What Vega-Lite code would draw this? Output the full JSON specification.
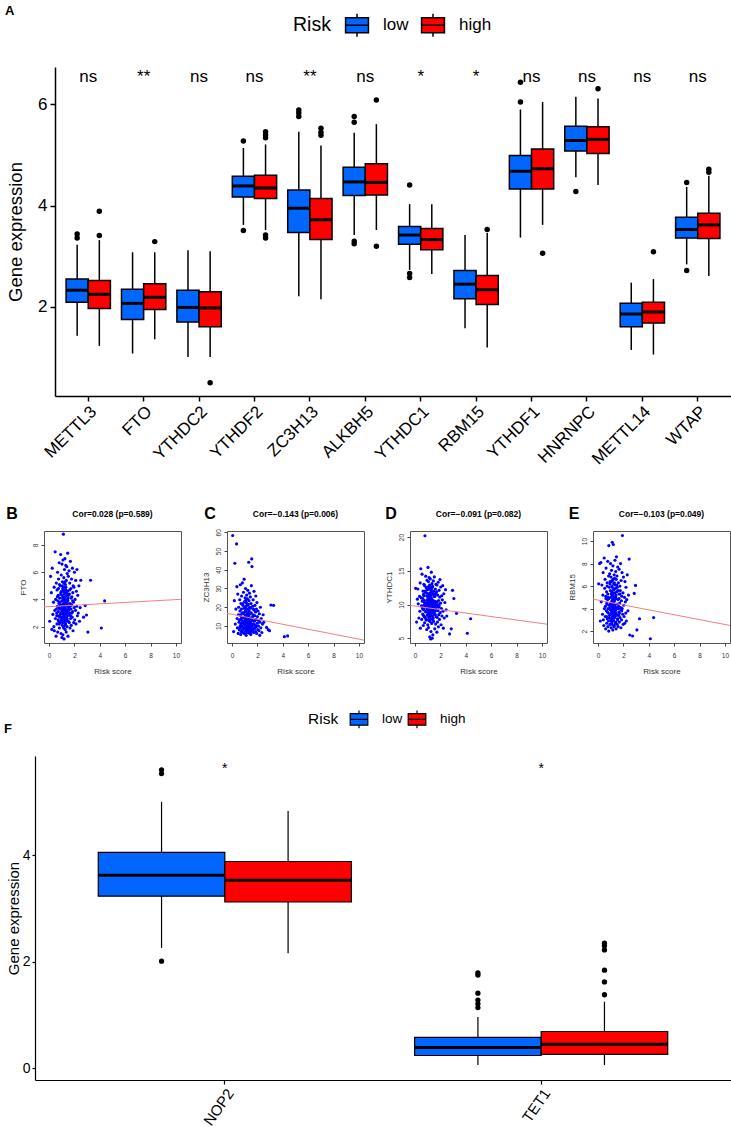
{
"$schema": "https://vega.github.io/schema/vega-lite/v6.json",
"autosize": {"type": "pad"},
"padding": {"left": 0, "top": 5, "right": 0, "bottom": 0},
"background": "white",
"config": {
 "font": "Liberation Sans",
 "view": {"stroke": null},
 "axis": {"grid": false, "labelColor": "black", "titleColor": "black", "tickColor": "black", "domainColor": "black", "titleFontWeight": "normal"},
 "title": {"font": "Liberation Sans", "color": "black"},
 "legend": {"labelColor": "black", "titleColor": "black"}
},
"resolve": {"scale": {"color": "independent", "x": "independent", "y": "independent", "xOffset": "independent"}},
"datasets": {
 "boxA": [
  {"gene":"METTL3","risk":"low","lo":1.43,"q1":2.09,"med":2.33,"q3":2.55,"hi":3.23},
  {"gene":"METTL3","risk":"high","lo":1.23,"q1":1.97,"med":2.25,"q3":2.52,"hi":3.32},
  {"gene":"FTO","risk":"low","lo":1.08,"q1":1.75,"med":2.07,"q3":2.35,"hi":3.08},
  {"gene":"FTO","risk":"high","lo":1.36,"q1":1.95,"med":2.19,"q3":2.46,"hi":3.08},
  {"gene":"YTHDC2","risk":"low","lo":1.01,"q1":1.70,"med":1.99,"q3":2.33,"hi":3.12},
  {"gene":"YTHDC2","risk":"high","lo":1.01,"q1":1.61,"med":1.98,"q3":2.30,"hi":3.10},
  {"gene":"YTHDF2","risk":"low","lo":3.62,"q1":4.17,"med":4.39,"q3":4.58,"hi":5.14},
  {"gene":"YTHDF2","risk":"high","lo":3.52,"q1":4.14,"med":4.35,"q3":4.60,"hi":5.21},
  {"gene":"ZC3H13","risk":"low","lo":2.21,"q1":3.47,"med":3.95,"q3":4.31,"hi":5.46},
  {"gene":"ZC3H13","risk":"high","lo":2.15,"q1":3.33,"med":3.72,"q3":4.14,"hi":5.19},
  {"gene":"ALKBH5","risk":"low","lo":3.42,"q1":4.20,"med":4.47,"q3":4.76,"hi":5.44},
  {"gene":"ALKBH5","risk":"high","lo":3.52,"q1":4.21,"med":4.46,"q3":4.83,"hi":5.61},
  {"gene":"YTHDC1","risk":"low","lo":2.73,"q1":3.24,"med":3.42,"q3":3.59,"hi":4.03},
  {"gene":"YTHDC1","risk":"high","lo":2.65,"q1":3.13,"med":3.33,"q3":3.55,"hi":4.03},
  {"gene":"RBM15","risk":"low","lo":1.58,"q1":2.16,"med":2.45,"q3":2.72,"hi":3.42},
  {"gene":"RBM15","risk":"high","lo":1.20,"q1":2.05,"med":2.34,"q3":2.62,"hi":3.46},
  {"gene":"YTHDF1","risk":"low","lo":3.37,"q1":4.33,"med":4.68,"q3":4.99,"hi":5.90},
  {"gene":"YTHDF1","risk":"high","lo":3.62,"q1":4.33,"med":4.73,"q3":5.12,"hi":6.05},
  {"gene":"HNRNPC","risk":"low","lo":4.56,"q1":5.08,"med":5.29,"q3":5.57,"hi":6.15},
  {"gene":"HNRNPC","risk":"high","lo":4.41,"q1":5.03,"med":5.31,"q3":5.56,"hi":6.12},
  {"gene":"METTL14","risk":"low","lo":1.15,"q1":1.61,"med":1.86,"q3":2.07,"hi":2.48},
  {"gene":"METTL14","risk":"high","lo":1.06,"q1":1.68,"med":1.90,"q3":2.09,"hi":2.55},
  {"gene":"WTAP","risk":"low","lo":2.84,"q1":3.36,"med":3.53,"q3":3.77,"hi":4.37},
  {"gene":"WTAP","risk":"high","lo":2.61,"q1":3.35,"med":3.62,"q3":3.85,"hi":4.59}
 ],
 "outA": [
  {"gene":"METTL3","risk":"low","v":3.44},{"gene":"METTL3","risk":"low","v":3.36},
  {"gene":"METTL3","risk":"high","v":3.89},{"gene":"METTL3","risk":"high","v":3.41},
  {"gene":"FTO","risk":"high","v":3.29},
  {"gene":"YTHDC2","risk":"high","v":0.50},
  {"gene":"YTHDF2","risk":"low","v":5.28},{"gene":"YTHDF2","risk":"low","v":3.51},
  {"gene":"YTHDF2","risk":"high","v":5.46},{"gene":"YTHDF2","risk":"high","v":5.40},{"gene":"YTHDF2","risk":"high","v":5.34},{"gene":"YTHDF2","risk":"high","v":3.42},{"gene":"YTHDF2","risk":"high","v":3.36},
  {"gene":"ZC3H13","risk":"low","v":5.89},{"gene":"ZC3H13","risk":"low","v":5.83},{"gene":"ZC3H13","risk":"low","v":5.76},
  {"gene":"ZC3H13","risk":"high","v":5.53},{"gene":"ZC3H13","risk":"high","v":5.45},{"gene":"ZC3H13","risk":"high","v":5.39},
  {"gene":"ALKBH5","risk":"low","v":5.76},{"gene":"ALKBH5","risk":"low","v":5.65},{"gene":"ALKBH5","risk":"low","v":3.30},{"gene":"ALKBH5","risk":"low","v":3.25},
  {"gene":"ALKBH5","risk":"high","v":6.09},{"gene":"ALKBH5","risk":"high","v":3.20},
  {"gene":"YTHDC1","risk":"low","v":4.41},{"gene":"YTHDC1","risk":"low","v":2.66},{"gene":"YTHDC1","risk":"low","v":2.58},
  {"gene":"RBM15","risk":"high","v":3.53},
  {"gene":"YTHDF1","risk":"low","v":6.44},{"gene":"YTHDF1","risk":"low","v":6.05},
  {"gene":"YTHDF1","risk":"high","v":3.06},
  {"gene":"HNRNPC","risk":"low","v":4.28},
  {"gene":"HNRNPC","risk":"high","v":6.31},
  {"gene":"METTL14","risk":"high","v":3.09},
  {"gene":"WTAP","risk":"low","v":4.46},{"gene":"WTAP","risk":"low","v":2.72},
  {"gene":"WTAP","risk":"high","v":4.72},{"gene":"WTAP","risk":"high","v":4.66}
 ],
 "sigA": [
  {"gene":"METTL3","lab":"ns"},{"gene":"FTO","lab":"**"},{"gene":"YTHDC2","lab":"ns"},{"gene":"YTHDF2","lab":"ns"},
  {"gene":"ZC3H13","lab":"**"},{"gene":"ALKBH5","lab":"ns"},{"gene":"YTHDC1","lab":"*"},{"gene":"RBM15","lab":"*"},
  {"gene":"YTHDF1","lab":"ns"},{"gene":"HNRNPC","lab":"ns"},{"gene":"METTL14","lab":"ns"},{"gene":"WTAP","lab":"ns"}
 ],
 "boxF": [
  {"gene":"NOP2","risk":"low","lo":2.26,"q1":3.23,"med":3.62,"q3":4.05,"hi":5.00},
  {"gene":"NOP2","risk":"high","lo":2.16,"q1":3.12,"med":3.53,"q3":3.88,"hi":4.83},
  {"gene":"TET1","risk":"low","lo":0.06,"q1":0.24,"med":0.39,"q3":0.58,"hi":0.96},
  {"gene":"TET1","risk":"high","lo":0.06,"q1":0.26,"med":0.45,"q3":0.69,"hi":1.25}
 ],
 "outF": [
  {"gene":"NOP2","risk":"low","v":5.60},{"gene":"NOP2","risk":"low","v":5.53},{"gene":"NOP2","risk":"low","v":2.01},
  {"gene":"TET1","risk":"low","v":1.79},{"gene":"TET1","risk":"low","v":1.75},{"gene":"TET1","risk":"low","v":1.41},{"gene":"TET1","risk":"low","v":1.28},{"gene":"TET1","risk":"low","v":1.21},{"gene":"TET1","risk":"low","v":1.14},
  {"gene":"TET1","risk":"high","v":2.35},{"gene":"TET1","risk":"high","v":2.30},{"gene":"TET1","risk":"high","v":2.22},{"gene":"TET1","risk":"high","v":1.84},{"gene":"TET1","risk":"high","v":1.62},{"gene":"TET1","risk":"high","v":1.38}
 ],
 "sigF": [{"gene":"NOP2","lab":"*"},{"gene":"TET1","lab":"*"}],
 "fit": [
  {"gene":"FTO","risk":-0.4,"v":3.45},{"gene":"FTO","risk":10.4,"v":4.01},
  {"gene":"ZC3H13","risk":-0.4,"v":16.73},{"gene":"ZC3H13","risk":10.4,"v":2.42},
  {"gene":"YTHDC1","risk":-0.4,"v":9.87},{"gene":"YTHDC1","risk":10.4,"v":7.09},
  {"gene":"RBM15","risk":-0.4,"v":4.84},{"gene":"RBM15","risk":10.4,"v":2.50}
 ],
 "pts": [
  {"risk":0.05,"FTO":2.4,"ZC3H13":58.3,"YTHDC1":12.4,"RBM15":6.2},
  {"risk":0.12,"FTO":5.7,"ZC3H13":7.0,"YTHDC1":7.4,"RBM15":8.0},
  {"risk":0.18,"FTO":4.5,"ZC3H13":23.5,"YTHDC1":10.8,"RBM15":2.9},
  {"risk":0.22,"FTO":1.8,"ZC3H13":43.5,"YTHDC1":12.3,"RBM15":8.1},
  {"risk":0.25,"FTO":6.3,"ZC3H13":11.0,"YTHDC1":10.1,"RBM15":4.6},
  {"risk":0.3,"FTO":2.9,"ZC3H13":19.0,"YTHDC1":8.0,"RBM15":6.1},
  {"risk":0.35,"FTO":3.8,"ZC3H13":53.8,"YTHDC1":11.2,"RBM15":3.5},
  {"risk":0.38,"FTO":2.0,"ZC3H13":31.0,"YTHDC1":9.0,"RBM15":5.2},
  {"risk":0.4,"FTO":4.9,"ZC3H13":14.0,"YTHDC1":13.2,"RBM15":7.2},
  {"risk":0.42,"FTO":1.7,"ZC3H13":9.0,"YTHDC1":6.5,"RBM15":3.0},
  {"risk":0.45,"FTO":3.2,"ZC3H13":27.0,"YTHDC1":15.3,"RBM15":2.5},
  {"risk":0.48,"FTO":7.5,"ZC3H13":6.0,"YTHDC1":11.0,"RBM15":8.5},
  {"risk":0.5,"FTO":2.6,"ZC3H13":16.0,"YTHDC1":9.8,"RBM15":4.0},
  {"risk":0.52,"FTO":4.0,"ZC3H13":20.0,"YTHDC1":7.8,"RBM15":5.8},
  {"risk":0.55,"FTO":1.3,"ZC3H13":12.0,"YTHDC1":14.5,"RBM15":6.6},
  {"risk":0.57,"FTO":5.2,"ZC3H13":8.0,"YTHDC1":10.5,"RBM15":3.3},
  {"risk":0.58,"FTO":3.3,"ZC3H13":13.0,"YTHDC1":9.5,"RBM15":4.2},
  {"risk":0.6,"FTO":3.0,"ZC3H13":24.0,"YTHDC1":8.6,"RBM15":2.2},
  {"risk":0.61,"FTO":2.8,"ZC3H13":9.0,"YTHDC1":10.9,"RBM15":5.1},
  {"risk":0.62,"FTO":2.2,"ZC3H13":18.0,"YTHDC1":12.0,"RBM15":4.9},
  {"risk":0.63,"FTO":4.7,"ZC3H13":10.0,"YTHDC1":9.3,"RBM15":7.6},
  {"risk":0.65,"FTO":3.5,"ZC3H13":32.0,"YTHDC1":6.9,"RBM15":3.8},
  {"risk":0.66,"FTO":4.2,"ZC3H13":16.0,"YTHDC1":8.4,"RBM15":3.3},
  {"risk":0.67,"FTO":6.0,"ZC3H13":13.5,"YTHDC1":11.5,"RBM15":5.5},
  {"risk":0.68,"FTO":1.6,"ZC3H13":5.5,"YTHDC1":9.9,"RBM15":2.7},
  {"risk":0.69,"FTO":3.9,"ZC3H13":11.0,"YTHDC1":11.3,"RBM15":4.5},
  {"risk":0.7,"FTO":2.8,"ZC3H13":22.0,"YTHDC1":13.0,"RBM15":4.4},
  {"risk":0.71,"FTO":2.5,"ZC3H13":7.0,"YTHDC1":9.2,"RBM15":6.0},
  {"risk":0.72,"FTO":4.3,"ZC3H13":15.0,"YTHDC1":8.2,"RBM15":6.3},
  {"risk":0.73,"FTO":3.1,"ZC3H13":9.5,"YTHDC1":10.3,"RBM15":3.1},
  {"risk":0.74,"FTO":4.8,"ZC3H13":19.0,"YTHDC1":10.6,"RBM15":3.7},
  {"risk":0.75,"FTO":5.5,"ZC3H13":26.0,"YTHDC1":7.3,"RBM15":4.8},
  {"risk":0.76,"FTO":2.4,"ZC3H13":11.5,"YTHDC1":12.8,"RBM15":8.2},
  {"risk":0.77,"FTO":3.4,"ZC3H13":14.0,"YTHDC1":8.1,"RBM15":5.3},
  {"risk":0.78,"FTO":3.7,"ZC3H13":7.5,"YTHDC1":20.2,"RBM15":2.4},
  {"risk":0.79,"FTO":2.2,"ZC3H13":10.0,"YTHDC1":12.0,"RBM15":4.0},
  {"risk":0.8,"FTO":6.7,"ZC3H13":17.0,"YTHDC1":9.6,"RBM15":5.0},
  {"risk":0.81,"FTO":1.9,"ZC3H13":33.0,"YTHDC1":11.8,"RBM15":3.6},
  {"risk":0.82,"FTO":5.1,"ZC3H13":8.0,"YTHDC1":9.8,"RBM15":2.9},
  {"risk":0.83,"FTO":4.1,"ZC3H13":12.5,"YTHDC1":8.9,"RBM15":6.9},
  {"risk":0.84,"FTO":3.3,"ZC3H13":6.5,"YTHDC1":14.2,"RBM15":2.0},
  {"risk":0.85,"FTO":2.7,"ZC3H13":21.0,"YTHDC1":10.0,"RBM15":9.6},
  {"risk":0.86,"FTO":3.8,"ZC3H13":22.0,"YTHDC1":7.9,"RBM15":4.9},
  {"risk":0.87,"FTO":5.0,"ZC3H13":14.5,"YTHDC1":7.7,"RBM15":4.3},
  {"risk":0.88,"FTO":3.6,"ZC3H13":9.0,"YTHDC1":12.5,"RBM15":5.9},
  {"risk":0.89,"FTO":2.9,"ZC3H13":12.0,"YTHDC1":10.2,"RBM15":3.2},
  {"risk":0.9,"FTO":2.3,"ZC3H13":28.0,"YTHDC1":9.1,"RBM15":3.4},
  {"risk":0.91,"FTO":7.3,"ZC3H13":16.5,"YTHDC1":11.3,"RBM15":7.1},
  {"risk":0.92,"FTO":4.4,"ZC3H13":8.5,"YTHDC1":6.3,"RBM15":4.1},
  {"risk":0.93,"FTO":4.5,"ZC3H13":17.0,"YTHDC1":11.7,"RBM15":6.2},
  {"risk":0.94,"FTO":1.5,"ZC3H13":19.5,"YTHDC1":13.6,"RBM15":2.6},
  {"risk":0.95,"FTO":3.0,"ZC3H13":35.0,"YTHDC1":10.7,"RBM15":6.4},
  {"risk":0.96,"FTO":5.8,"ZC3H13":11.0,"YTHDC1":8.4,"RBM15":3.9},
  {"risk":0.97,"FTO":2.5,"ZC3H13":6.0,"YTHDC1":12.2,"RBM15":5.6},
  {"risk":0.98,"FTO":4.6,"ZC3H13":23.0,"YTHDC1":9.4,"RBM15":8.0},
  {"risk":0.99,"FTO":3.1,"ZC3H13":9.0,"YTHDC1":8.9,"RBM15":4.4},
  {"risk":1.0,"FTO":3.4,"ZC3H13":13.0,"YTHDC1":7.0,"RBM15":4.5},
  {"risk":1.005,"FTO":2.7,"ZC3H13":15.0,"YTHDC1":10.5,"RBM15":3.5},
  {"risk":1.01,"FTO":1.2,"ZC3H13":17.5,"YTHDC1":11.1,"RBM15":3.0},
  {"risk":1.015,"FTO":4.3,"ZC3H13":11.0,"YTHDC1":9.0,"RBM15":5.0},
  {"risk":1.02,"FTO":6.6,"ZC3H13":10.5,"YTHDC1":15.5,"RBM15":6.8},
  {"risk":1.025,"FTO":3.6,"ZC3H13":6.0,"YTHDC1":12.3,"RBM15":4.1},
  {"risk":1.03,"FTO":3.9,"ZC3H13":25.0,"YTHDC1":8.8,"RBM15":2.3},
  {"risk":1.035,"FTO":2.4,"ZC3H13":20.0,"YTHDC1":8.6,"RBM15":2.9},
  {"risk":1.04,"FTO":2.1,"ZC3H13":7.0,"YTHDC1":10.4,"RBM15":5.3},
  {"risk":1.045,"FTO":5.0,"ZC3H13":13.0,"YTHDC1":10.0,"RBM15":6.4},
  {"risk":1.05,"FTO":5.3,"ZC3H13":15.5,"YTHDC1":13.4,"RBM15":4.0},
  {"risk":1.055,"FTO":3.0,"ZC3H13":8.5,"YTHDC1":11.6,"RBM15":3.8},
  {"risk":1.06,"FTO":3.2,"ZC3H13":30.0,"YTHDC1":6.6,"RBM15":7.4},
  {"risk":1.065,"FTO":4.1,"ZC3H13":18.0,"YTHDC1":7.7,"RBM15":4.6},
  {"risk":1.07,"FTO":4.8,"ZC3H13":9.5,"YTHDC1":9.7,"RBM15":3.7},
  {"risk":1.075,"FTO":3.5,"ZC3H13":10.0,"YTHDC1":9.9,"RBM15":5.5},
  {"risk":1.08,"FTO":2.6,"ZC3H13":20.5,"YTHDC1":12.6,"RBM15":6.0},
  {"risk":1.085,"FTO":2.3,"ZC3H13":14.0,"YTHDC1":12.7,"RBM15":3.1},
  {"risk":1.09,"FTO":1.4,"ZC3H13":12.0,"YTHDC1":8.1,"RBM15":2.8},
  {"risk":1.095,"FTO":4.6,"ZC3H13":7.0,"YTHDC1":8.4,"RBM15":4.3},
  {"risk":1.1,"FTO":6.9,"ZC3H13":18.5,"YTHDC1":10.9,"RBM15":5.1},
  {"risk":1.105,"FTO":3.3,"ZC3H13":24.0,"YTHDC1":10.8,"RBM15":2.6},
  {"risk":1.11,"FTO":3.5,"ZC3H13":5.0,"YTHDC1":14.0,"RBM15":4.7},
  {"risk":1.12,"FTO":2.9,"ZC3H13":22.5,"YTHDC1":7.6,"RBM15":9.9},
  {"risk":1.125,"FTO":2.6,"ZC3H13":12.0,"YTHDC1":9.3,"RBM15":5.9},
  {"risk":1.13,"FTO":8.8,"ZC3H13":14.0,"YTHDC1":11.4,"RBM15":3.2},
  {"risk":1.135,"FTO":4.0,"ZC3H13":9.0,"YTHDC1":11.0,"RBM15":3.6},
  {"risk":1.14,"FTO":4.2,"ZC3H13":8.0,"YTHDC1":9.2,"RBM15":6.5},
  {"risk":1.145,"FTO":3.7,"ZC3H13":16.0,"YTHDC1":8.2,"RBM15":4.8},
  {"risk":1.15,"FTO":2.0,"ZC3H13":26.5,"YTHDC1":12.9,"RBM15":4.2},
  {"risk":1.155,"FTO":1.9,"ZC3H13":11.0,"YTHDC1":10.4,"RBM15":3.3},
  {"risk":1.16,"FTO":5.6,"ZC3H13":11.5,"YTHDC1":5.2,"RBM15":2.1},
  {"risk":1.165,"FTO":5.2,"ZC3H13":8.0,"YTHDC1":12.5,"RBM15":5.2},
  {"risk":1.17,"FTO":3.7,"ZC3H13":16.0,"YTHDC1":10.2,"RBM15":7.8},
  {"risk":1.175,"FTO":3.2,"ZC3H13":21.0,"YTHDC1":9.6,"RBM15":4.0},
  {"risk":1.18,"FTO":1.1,"ZC3H13":7.5,"YTHDC1":8.5,"RBM15":3.5},
  {"risk":1.185,"FTO":2.8,"ZC3H13":13.0,"YTHDC1":7.5,"RBM15":6.6},
  {"risk":1.19,"FTO":4.9,"ZC3H13":19.0,"YTHDC1":11.7,"RBM15":5.4},
  {"risk":1.195,"FTO":4.4,"ZC3H13":10.0,"YTHDC1":10.9,"RBM15":3.0},
  {"risk":1.2,"FTO":3.0,"ZC3H13":10.0,"YTHDC1":13.8,"RBM15":9.7},
  {"risk":1.205,"FTO":3.9,"ZC3H13":6.5,"YTHDC1":8.8,"RBM15":4.5},
  {"risk":1.21,"FTO":6.2,"ZC3H13":24.5,"YTHDC1":7.9,"RBM15":4.6},
  {"risk":1.215,"FTO":2.5,"ZC3H13":17.0,"YTHDC1":11.3,"RBM15":5.7},
  {"risk":1.22,"FTO":2.3,"ZC3H13":13.5,"YTHDC1":10.6,"RBM15":2.9},
  {"risk":1.23,"FTO":4.5,"ZC3H13":6.5,"YTHDC1":4.9,"RBM15":6.2},
  {"risk":1.235,"FTO":4.7,"ZC3H13":12.0,"YTHDC1":9.5,"RBM15":3.4},
  {"risk":1.24,"FTO":3.3,"ZC3H13":29.0,"YTHDC1":12.1,"RBM15":3.8},
  {"risk":1.245,"FTO":3.4,"ZC3H13":9.0,"YTHDC1":10.1,"RBM15":4.2},
  {"risk":1.25,"FTO":7.0,"ZC3H13":15.0,"YTHDC1":6.0,"RBM15":5.7},
  {"risk":1.255,"FTO":2.1,"ZC3H13":15.0,"YTHDC1":12.2,"RBM15":2.4},
  {"risk":1.26,"FTO":1.8,"ZC3H13":9.0,"YTHDC1":11.0,"RBM15":4.3},
  {"risk":1.265,"FTO":5.3,"ZC3H13":11.0,"YTHDC1":8.7,"RBM15":5.0},
  {"risk":1.27,"FTO":4.0,"ZC3H13":21.5,"YTHDC1":8.7,"RBM15":7.0},
  {"risk":1.275,"FTO":3.0,"ZC3H13":19.0,"YTHDC1":10.7,"RBM15":3.9},
  {"risk":1.28,"FTO":2.7,"ZC3H13":11.0,"YTHDC1":14.8,"RBM15":2.5},
  {"risk":1.285,"FTO":4.2,"ZC3H13":7.0,"YTHDC1":9.1,"RBM15":6.3},
  {"risk":1.29,"FTO":5.1,"ZC3H13":17.0,"YTHDC1":9.5,"RBM15":4.9},
  {"risk":1.295,"FTO":2.9,"ZC3H13":13.0,"YTHDC1":11.8,"RBM15":4.7},
  {"risk":1.3,"FTO":3.6,"ZC3H13":8.5,"YTHDC1":12.4,"RBM15":6.7},
  {"risk":1.305,"FTO":3.6,"ZC3H13":10.0,"YTHDC1":8.3,"RBM15":3.2},
  {"risk":1.31,"FTO":2.2,"ZC3H13":44.0,"YTHDC1":7.2,"RBM15":3.3},
  {"risk":1.32,"FTO":6.5,"ZC3H13":12.5,"YTHDC1":10.8,"RBM15":5.0},
  {"risk":1.325,"FTO":4.9,"ZC3H13":16.0,"YTHDC1":10.3,"RBM15":5.4},
  {"risk":1.33,"FTO":3.1,"ZC3H13":23.5,"YTHDC1":13.1,"RBM15":8.3},
  {"risk":1.34,"FTO":4.7,"ZC3H13":7.0,"YTHDC1":9.9,"RBM15":3.6},
  {"risk":1.345,"FTO":2.4,"ZC3H13":8.0,"YTHDC1":9.4,"RBM15":4.1},
  {"risk":1.35,"FTO":1.6,"ZC3H13":18.0,"YTHDC1":5.0,"RBM15":6.1},
  {"risk":1.36,"FTO":5.4,"ZC3H13":10.5,"YTHDC1":11.6,"RBM15":4.4},
  {"risk":1.365,"FTO":3.3,"ZC3H13":12.0,"YTHDC1":12.6,"RBM15":3.7},
  {"risk":1.37,"FTO":3.8,"ZC3H13":27.5,"YTHDC1":8.3,"RBM15":2.7},
  {"risk":1.38,"FTO":2.5,"ZC3H13":14.5,"YTHDC1":12.7,"RBM15":5.8},
  {"risk":1.385,"FTO":4.5,"ZC3H13":20.0,"YTHDC1":7.8,"RBM15":5.1},
  {"risk":1.39,"FTO":4.3,"ZC3H13":6.0,"YTHDC1":10.1,"RBM15":7.3},
  {"risk":1.4,"FTO":6.4,"ZC3H13":20.0,"YTHDC1":5.5,"RBM15":3.9},
  {"risk":1.405,"FTO":3.1,"ZC3H13":9.0,"YTHDC1":10.6,"RBM15":2.8},
  {"risk":1.41,"FTO":3.2,"ZC3H13":9.5,"YTHDC1":9.6,"RBM15":5.2},
  {"risk":1.42,"FTO":2.0,"ZC3H13":16.5,"YTHDC1":11.9,"RBM15":2.2},
  {"risk":1.425,"FTO":2.6,"ZC3H13":14.0,"YTHDC1":9.0,"RBM15":4.9},
  {"risk":1.43,"FTO":5.9,"ZC3H13":12.0,"YTHDC1":8.0,"RBM15":6.6},
  {"risk":1.44,"FTO":3.5,"ZC3H13":25.5,"YTHDC1":13.5,"RBM15":4.1},
  {"risk":1.45,"FTO":4.6,"ZC3H13":8.0,"YTHDC1":10.3,"RBM15":8.6},
  {"risk":1.455,"FTO":4.0,"ZC3H13":11.0,"YTHDC1":11.5,"RBM15":3.5},
  {"risk":1.46,"FTO":2.8,"ZC3H13":19.5,"YTHDC1":7.5,"RBM15":3.4},
  {"risk":1.47,"FTO":7.4,"ZC3H13":11.5,"YTHDC1":12.0,"RBM15":5.5},
  {"risk":1.475,"FTO":3.7,"ZC3H13":7.0,"YTHDC1":8.9,"RBM15":6.1},
  {"risk":1.48,"FTO":3.9,"ZC3H13":5.5,"YTHDC1":9.3,"RBM15":4.0},
  {"risk":1.49,"FTO":1.3,"ZC3H13":22.0,"YTHDC1":11.2,"RBM15":6.9},
  {"risk":1.5,"FTO":4.1,"ZC3H13":14.0,"YTHDC1":8.6,"RBM15":2.6},
  {"risk":1.505,"FTO":2.9,"ZC3H13":17.0,"YTHDC1":10.1,"RBM15":4.4},
  {"risk":1.52,"FTO":5.7,"ZC3H13":31.5,"YTHDC1":14.1,"RBM15":5.9},
  {"risk":1.53,"FTO":2.4,"ZC3H13":10.0,"YTHDC1":10.5,"RBM15":3.1},
  {"risk":1.535,"FTO":4.3,"ZC3H13":10.0,"YTHDC1":9.7,"RBM15":3.0},
  {"risk":1.55,"FTO":3.4,"ZC3H13":45.8,"YTHDC1":6.4,"RBM15":7.7},
  {"risk":1.565,"FTO":3.2,"ZC3H13":13.0,"YTHDC1":11.2,"RBM15":5.6},
  {"risk":1.57,"FTO":6.1,"ZC3H13":41.7,"YTHDC1":11.5,"RBM15":4.8},
  {"risk":1.58,"FTO":2.9,"ZC3H13":13.0,"YTHDC1":9.0,"RBM15":2.4},
  {"risk":1.595,"FTO":2.3,"ZC3H13":8.0,"YTHDC1":8.5,"RBM15":4.0},
  {"risk":1.6,"FTO":4.4,"ZC3H13":7.5,"YTHDC1":12.3,"RBM15":6.3},
  {"risk":1.62,"FTO":3.0,"ZC3H13":20.5,"YTHDC1":7.1,"RBM15":4.2},
  {"risk":1.625,"FTO":4.7,"ZC3H13":15.0,"YTHDC1":10.4,"RBM15":3.4},
  {"risk":1.63,"FTO":5.2,"ZC3H13":9.0,"YTHDC1":10.0,"RBM15":3.7},
  {"risk":1.65,"FTO":1.9,"ZC3H13":16.0,"YTHDC1":13.0,"RBM15":5.3},
  {"risk":1.655,"FTO":3.5,"ZC3H13":11.0,"YTHDC1":9.3,"RBM15":4.9},
  {"risk":1.66,"FTO":3.7,"ZC3H13":24.0,"YTHDC1":8.2,"RBM15":7.5},
  {"risk":1.68,"FTO":6.8,"ZC3H13":11.0,"YTHDC1":11.8,"RBM15":2.8},
  {"risk":1.69,"FTO":2.8,"ZC3H13":19.0,"YTHDC1":11.9,"RBM15":3.6},
  {"risk":1.7,"FTO":2.6,"ZC3H13":6.5,"YTHDC1":9.7,"RBM15":4.5},
  {"risk":1.72,"FTO":4.8,"ZC3H13":18.5,"YTHDC1":5.9,"RBM15":6.0},
  {"risk":1.73,"FTO":3.3,"ZC3H13":28.5,"YTHDC1":12.9,"RBM15":3.2},
  {"risk":1.74,"FTO":4.1,"ZC3H13":9.0,"YTHDC1":8.1,"RBM15":5.3},
  {"risk":1.75,"FTO":2.1,"ZC3H13":12.5,"YTHDC1":10.4,"RBM15":5.6},
  {"risk":1.77,"FTO":5.5,"ZC3H13":8.5,"YTHDC1":7.4,"RBM15":8.0},
  {"risk":1.78,"FTO":3.6,"ZC3H13":15.5,"YTHDC1":11.4,"RBM15":3.9},
  {"risk":1.79,"FTO":3.0,"ZC3H13":13.0,"YTHDC1":10.0,"RBM15":4.1},
  {"risk":1.8,"FTO":4.2,"ZC3H13":21.0,"YTHDC1":9.1,"RBM15":2.3},
  {"risk":1.82,"FTO":2.7,"ZC3H13":10.5,"YTHDC1":13.3,"RBM15":6.5},
  {"risk":1.84,"FTO":6.3,"ZC3H13":7.0,"YTHDC1":6.7,"RBM15":4.7},
  {"risk":1.85,"FTO":3.1,"ZC3H13":17.5,"YTHDC1":10.6,"RBM15":3.0},
  {"risk":1.86,"FTO":3.9,"ZC3H13":10.0,"YTHDC1":9.6,"RBM15":3.8},
  {"risk":1.87,"FTO":4.5,"ZC3H13":26.0,"YTHDC1":8.5,"RBM15":5.1},
  {"risk":1.89,"FTO":1.7,"ZC3H13":9.5,"YTHDC1":12.1,"RBM15":7.2},
  {"risk":1.9,"FTO":5.0,"ZC3H13":13.5,"YTHDC1":9.8,"RBM15":4.0},
  {"risk":1.92,"FTO":3.8,"ZC3H13":19.0,"YTHDC1":7.8,"RBM15":10.5},
  {"risk":1.94,"FTO":2.3,"ZC3H13":6.0,"YTHDC1":11.1,"RBM15":3.5},
  {"risk":1.96,"FTO":4.9,"ZC3H13":22.5,"YTHDC1":13.7,"RBM15":5.4},
  {"risk":1.98,"FTO":3.4,"ZC3H13":11.5,"YTHDC1":8.8,"RBM15":2.6},
  {"risk":2.0,"FTO":6.0,"ZC3H13":15.0,"YTHDC1":10.2,"RBM15":6.8},
  {"risk":2.02,"FTO":2.5,"ZC3H13":8.0,"YTHDC1":12.6,"RBM15":4.3},
  {"risk":2.05,"FTO":4.0,"ZC3H13":18.0,"YTHDC1":7.0,"RBM15":3.3},
  {"risk":2.08,"FTO":3.2,"ZC3H13":10.0,"YTHDC1":9.4,"RBM15":5.0},
  {"risk":2.1,"FTO":5.4,"ZC3H13":13.0,"YTHDC1":11.3,"RBM15":2.7},
  {"risk":2.12,"FTO":2.2,"ZC3H13":7.5,"YTHDC1":8.3,"RBM15":6.4},
  {"risk":2.15,"FTO":4.6,"ZC3H13":16.5,"YTHDC1":10.7,"RBM15":4.6},
  {"risk":2.18,"FTO":3.5,"ZC3H13":5.0,"YTHDC1":12.8,"RBM15":3.6},
  {"risk":2.2,"FTO":6.2,"ZC3H13":12.0,"YTHDC1":9.0,"RBM15":5.9},
  {"risk":2.23,"FTO":2.8,"ZC3H13":20.0,"YTHDC1":6.5,"RBM15":2.9},
  {"risk":2.26,"FTO":4.3,"ZC3H13":9.0,"YTHDC1":11.6,"RBM15":4.8},
  {"risk":2.3,"FTO":3.0,"ZC3H13":14.0,"YTHDC1":8.0,"RBM15":7.0},
  {"risk":2.35,"FTO":5.0,"ZC3H13":6.5,"YTHDC1":10.3,"RBM15":3.8},
  {"risk":2.4,"FTO":2.4,"ZC3H13":11.0,"YTHDC1":12.2,"RBM15":5.2},
  {"risk":2.45,"FTO":3.4,"ZC3H13":16.0,"YTHDC1":9.2,"RBM15":8.4},
  {"risk":2.5,"FTO":5.41,"ZC3H13":12.0,"YTHDC1":8.3,"RBM15":1.65},
  {"risk":2.72,"FTO":2.7,"ZC3H13":9.2,"YTHDC1":5.65,"RBM15":1.56},
  {"risk":2.85,"FTO":3.55,"ZC3H13":8.0,"YTHDC1":6.4,"RBM15":5.35},
  {"risk":2.95,"FTO":2.86,"ZC3H13":7.5,"YTHDC1":12.1,"RBM15":6.06},
  {"risk":3.06,"FTO":1.6,"ZC3H13":21.2,"YTHDC1":10.9,"RBM15":2.1},
  {"risk":3.27,"FTO":5.41,"ZC3H13":21.0,"YTHDC1":8.7,"RBM15":3.1},
  {"risk":4.12,"FTO":1.9,"ZC3H13":4.3,"YTHDC1":5.75,"RBM15":1.32},
  {"risk":4.38,"FTO":3.89,"ZC3H13":4.7,"YTHDC1":7.9,"RBM15":3.2}
 ]
},
"vconcat": [
 {
  "hconcat": [
   {"width": 55, "height": 406, "data": {"values": []}, "mark": "point"},
   {
    "width": 676, "height": 329,
    "title": {"text": "A", "anchor": "start", "frame": "group", "dx": -50, "offset": 36, "baseline": "bottom", "fontSize": 13, "fontWeight": "bold"},
    "layer": [
     {"data": {"name": "boxA"}, "mark": {"type": "rule", "color": "black", "strokeWidth": 1.5},
      "encoding": {
       "x": {"field": "gene", "type": "nominal", "sort": ["METTL3","FTO","YTHDC2","YTHDF2","ZC3H13","ALKBH5","YTHDC1","RBM15","YTHDF1","HNRNPC","METTL14","WTAP"],
        "scale": {"paddingInner": 0, "paddingOuter": 0.1},
        "axis": {"title": null, "labelAngle": -45, "labelAlign": "right", "labelBaseline": "top", "labelFontSize": 17, "tickSize": 5, "tickWidth": 1.5, "domainWidth": 1.5, "labelPadding": 2}},
       "xOffset": {"field": "risk", "type": "nominal", "sort": ["low","high"], "scale": {"paddingInner": 0, "paddingOuter": 0.25}},
       "y": {"field": "lo", "type": "quantitative", "scale": {"domain": [0.24, 6.74], "nice": false, "zero": false},
        "axis": {"title": "Gene expression", "values": [2,4,6], "tickCount": 20, "format": "d", "labelFontSize": 17, "titleFontSize": 18.5, "tickSize": 5, "tickWidth": 1.5, "domainWidth": 1.5, "labelPadding": 3, "titlePadding": 12}},
       "y2": {"field": "hi"}
      }},
     {"data": {"name": "boxA"}, "mark": {"type": "bar", "stroke": "black", "strokeWidth": 1.5},
      "encoding": {
       "x": {"field": "gene", "type": "nominal", "sort": ["METTL3","FTO","YTHDC2","YTHDF2","ZC3H13","ALKBH5","YTHDC1","RBM15","YTHDF1","HNRNPC","METTL14","WTAP"]},
       "xOffset": {"field": "risk", "type": "nominal", "sort": ["low","high"]},
       "y": {"field": "q1", "type": "quantitative"},
       "y2": {"field": "q3"},
       "color": {"field": "risk", "type": "nominal", "sort": ["low","high"], "scale": {"domain": ["low","high"], "range": ["#0066ff","#ff0000"]},
        "legend": {"orient": "none", "legendX": 293, "legendY": -56, "direction": "horizontal", "title": "Risk", "titleOrient": "left", "titleFontSize": 19.5, "titleFontWeight": "normal", "titleBaseline": "middle", "titlePadding": 12, "labelFontSize": 17, "labelOffset": 12, "columnPadding": 9, "symbolSize": 676, "symbolStrokeColor": "black", "symbolStrokeWidth": 1.5, "symbolOpacity": 1, "symbolType": "M-0.88,-0.58H0.88V0.58H-0.88Z M-0.88,0H0.88 M0,-0.58V-0.88 M0,0.58V0.88"}}
      }},
     {"data": {"name": "boxA"}, "mark": {"type": "tick", "color": "black", "thickness": 3, "size": 22, "opacity": 1},
      "encoding": {
       "x": {"field": "gene", "type": "nominal", "sort": ["METTL3","FTO","YTHDC2","YTHDF2","ZC3H13","ALKBH5","YTHDC1","RBM15","YTHDF1","HNRNPC","METTL14","WTAP"]},
       "xOffset": {"field": "risk", "type": "nominal", "sort": ["low","high"]},
       "y": {"field": "med", "type": "quantitative"}
      }},
     {"data": {"name": "outA"}, "mark": {"type": "circle", "color": "black", "size": 30, "opacity": 1},
      "encoding": {
       "x": {"field": "gene", "type": "nominal", "sort": ["METTL3","FTO","YTHDC2","YTHDF2","ZC3H13","ALKBH5","YTHDC1","RBM15","YTHDF1","HNRNPC","METTL14","WTAP"]},
       "xOffset": {"field": "risk", "type": "nominal", "sort": ["low","high"]},
       "y": {"field": "v", "type": "quantitative"}
      }},
     {"data": {"name": "sigA"}, "mark": {"type": "text", "fontSize": 17, "color": "black", "baseline": "middle"},
      "encoding": {
       "x": {"field": "gene", "type": "nominal", "sort": ["METTL3","FTO","YTHDC2","YTHDF2","ZC3H13","ALKBH5","YTHDC1","RBM15","YTHDF1","HNRNPC","METTL14","WTAP"]},
       "y": {"datum": 6.55},
       "text": {"field": "lab"}
      }}
    ]
   }
  ],
  "spacing": 0, "bounds": "flush"
 },
 {
  "hconcat": [
   {"width": 44, "height": 112, "data": {"values": []}, "mark": "point"},
   {
    "width": 137, "height": 112, "view": {"stroke": "#555"},
    "layer": [
     {"data": {"name": "pts"}, "mark": {"type": "circle", "color": "#0000ff", "size": 10, "opacity": 1},
      "encoding": {
       "x": {"field": "risk", "type": "quantitative", "scale": {"domain": [-0.4, 10.4], "nice": false, "zero": false},
        "axis": {"title": "Risk score", "values": [0,2,4,6,8,10], "format": "d", "tickCount": 20, "labelOverlap": false, "domain": false, "tickSize": 3, "tickColor": "#444", "labelFontSize": 6.5, "labelPadding": 6, "labelColor": "#333", "titleFontSize": 8, "titlePadding": 9, "titleColor": "#333"}},
       "y": {"field": "FTO", "type": "quantitative", "scale": {"domain": [0.8, 9.03], "nice": false, "zero": false},
        "axis": {"title": "FTO", "values": [2,4,6,8], "format": "d", "tickCount": 20, "labelOverlap": false, "domain": false, "tickSize": 3, "tickColor": "#444", "labelFontSize": 6.5, "labelAngle": -90, "labelAlign": "center", "labelBaseline": "bottom", "labelPadding": 3, "labelColor": "#333", "titleFontSize": 8, "titlePadding": 5, "titleColor": "#333"}}
      }},
     {"data": {"name": "fit"}, "transform": [{"filter": "datum.gene == 'FTO'"}], "mark": {"type": "line", "color": "#f08080", "strokeWidth": 1, "clip": true},
      "encoding": {"x": {"field": "risk", "type": "quantitative"}, "y": {"field": "v", "type": "quantitative"}}},
     {"data": {"values": [{"t": "B"}]}, "mark": {"type": "text", "fontSize": 16, "fontWeight": "bold", "color": "black", "baseline": "middle"},
      "encoding": {"x": {"datum": -2.92}, "y": {"datum": 10.28}, "text": {"field": "t"}}},
     {"data": {"values": [{"t": "Cor=0.028 (p=0.589)"}]}, "mark": {"type": "text", "fontSize": 8.5, "fontWeight": "bold", "color": "black", "baseline": "middle"},
      "encoding": {"x": {"datum": 5.0}, "y": {"datum": 10.28}, "text": {"field": "t"}}}
    ]
   },
   {"width": 46, "height": 112, "data": {"values": []}, "mark": "point"},
   {
    "width": 137, "height": 112, "view": {"stroke": "#555"},
    "layer": [
     {"data": {"name": "pts"}, "mark": {"type": "circle", "color": "#0000ff", "size": 10, "opacity": 1},
      "encoding": {
       "x": {"field": "risk", "type": "quantitative", "scale": {"domain": [-0.4, 10.4], "nice": false, "zero": false},
        "axis": {"title": "Risk score", "values": [0,2,4,6,8,10], "format": "d", "tickCount": 20, "labelOverlap": false, "domain": false, "tickSize": 3, "tickColor": "#444", "labelFontSize": 6.5, "labelPadding": 6, "labelColor": "#333", "titleFontSize": 8, "titlePadding": 9, "titleColor": "#333"}},
       "y": {"field": "ZC3H13", "type": "quantitative", "scale": {"domain": [0.9, 60.7], "nice": false, "zero": false},
        "axis": {"title": "ZC3H13", "values": [10,20,30,40,50,60], "format": "d", "tickCount": 20, "labelOverlap": false, "domain": false, "tickSize": 3, "tickColor": "#444", "labelFontSize": 6.5, "labelAngle": -90, "labelAlign": "center", "labelBaseline": "bottom", "labelPadding": 3, "labelColor": "#333", "titleFontSize": 8, "titlePadding": 5, "titleColor": "#333"}}
      }},
     {"data": {"name": "fit"}, "transform": [{"filter": "datum.gene == 'ZC3H13'"}], "mark": {"type": "line", "color": "#f08080", "strokeWidth": 1, "clip": true},
      "encoding": {"x": {"field": "risk", "type": "quantitative"}, "y": {"field": "v", "type": "quantitative"}}},
     {"data": {"values": [{"t": "C"}]}, "mark": {"type": "text", "fontSize": 16, "fontWeight": "bold", "color": "black", "baseline": "middle"},
      "encoding": {"x": {"datum": -1.74}, "y": {"datum": 69.8}, "text": {"field": "t"}}},
     {"data": {"values": [{"t": "Cor=−0.143 (p=0.006)"}]}, "mark": {"type": "text", "fontSize": 8.5, "fontWeight": "bold", "color": "black", "baseline": "middle"},
      "encoding": {"x": {"datum": 5.0}, "y": {"datum": 69.8}, "text": {"field": "t"}}}
    ]
   },
   {"width": 46, "height": 112, "data": {"values": []}, "mark": "point"},
   {
    "width": 137, "height": 112, "view": {"stroke": "#555"},
    "layer": [
     {"data": {"name": "pts"}, "mark": {"type": "circle", "color": "#0000ff", "size": 10, "opacity": 1},
      "encoding": {
       "x": {"field": "risk", "type": "quantitative", "scale": {"domain": [-0.4, 10.4], "nice": false, "zero": false},
        "axis": {"title": "Risk score", "values": [0,2,4,6,8,10], "format": "d", "tickCount": 20, "labelOverlap": false, "domain": false, "tickSize": 3, "tickColor": "#444", "labelFontSize": 6.5, "labelPadding": 6, "labelColor": "#333", "titleFontSize": 8, "titlePadding": 9, "titleColor": "#333"}},
       "y": {"field": "YTHDC1", "type": "quantitative", "scale": {"domain": [4.3, 20.9], "nice": false, "zero": false},
        "axis": {"title": "YTHDC1", "values": [5,10,15,20], "format": "d", "tickCount": 20, "labelOverlap": false, "domain": false, "tickSize": 3, "tickColor": "#444", "labelFontSize": 6.5, "labelAngle": -90, "labelAlign": "center", "labelBaseline": "bottom", "labelPadding": 3, "labelColor": "#333", "titleFontSize": 8, "titlePadding": 5, "titleColor": "#333"}}
      }},
     {"data": {"name": "fit"}, "transform": [{"filter": "datum.gene == 'YTHDC1'"}], "mark": {"type": "line", "color": "#f08080", "strokeWidth": 1, "clip": true},
      "encoding": {"x": {"field": "risk", "type": "quantitative"}, "y": {"field": "v", "type": "quantitative"}}},
     {"data": {"values": [{"t": "D"}]}, "mark": {"type": "text", "fontSize": 16, "fontWeight": "bold", "color": "black", "baseline": "middle"},
      "encoding": {"x": {"datum": -1.9}, "y": {"datum": 23.4}, "text": {"field": "t"}}},
     {"data": {"values": [{"t": "Cor=−0.091 (p=0.082)"}]}, "mark": {"type": "text", "fontSize": 8.5, "fontWeight": "bold", "color": "black", "baseline": "middle"},
      "encoding": {"x": {"datum": 5.0}, "y": {"datum": 23.4}, "text": {"field": "t"}}}
    ]
   },
   {"width": 46, "height": 112, "data": {"values": []}, "mark": "point"},
   {
    "width": 137, "height": 112, "view": {"stroke": "#555"},
    "layer": [
     {"data": {"name": "pts"}, "mark": {"type": "circle", "color": "#0000ff", "size": 10, "opacity": 1},
      "encoding": {
       "x": {"field": "risk", "type": "quantitative", "scale": {"domain": [-0.4, 10.4], "nice": false, "zero": false},
        "axis": {"title": "Risk score", "values": [0,2,4,6,8,10], "format": "d", "tickCount": 20, "labelOverlap": false, "domain": false, "tickSize": 3, "tickColor": "#444", "labelFontSize": 6.5, "labelPadding": 6, "labelColor": "#333", "titleFontSize": 8, "titlePadding": 9, "titleColor": "#333"}},
       "y": {"field": "RBM15", "type": "quantitative", "scale": {"domain": [0.94, 10.9], "nice": false, "zero": false},
        "axis": {"title": "RBM15", "values": [2,4,6,8,10], "format": "d", "tickCount": 20, "labelOverlap": false, "domain": false, "tickSize": 3, "tickColor": "#444", "labelFontSize": 6.5, "labelAngle": -90, "labelAlign": "center", "labelBaseline": "bottom", "labelPadding": 3, "labelColor": "#333", "titleFontSize": 8, "titlePadding": 5, "titleColor": "#333"}}
      }},
     {"data": {"name": "fit"}, "transform": [{"filter": "datum.gene == 'RBM15'"}], "mark": {"type": "line", "color": "#f08080", "strokeWidth": 1, "clip": true},
      "encoding": {"x": {"field": "risk", "type": "quantitative"}, "y": {"field": "v", "type": "quantitative"}}},
     {"data": {"values": [{"t": "E"}]}, "mark": {"type": "text", "fontSize": 16, "fontWeight": "bold", "color": "black", "baseline": "middle"},
      "encoding": {"x": {"datum": -1.9}, "y": {"datum": 12.4}, "text": {"field": "t"}}},
     {"data": {"values": [{"t": "Cor=−0.103 (p=0.049)"}]}, "mark": {"type": "text", "fontSize": 8.5, "fontWeight": "bold", "color": "black", "baseline": "middle"},
      "encoding": {"x": {"datum": 5.0}, "y": {"datum": 12.4}, "text": {"field": "t"}}}
    ]
   }
  ],
  "spacing": 0, "bounds": "flush",
  "resolve": {"scale": {"x": "independent", "y": "independent"}}
 },
 {
  "hconcat": [
   {"width": 35, "height": 324, "data": {"values": []}, "mark": "point"},
   {
    "width": 696, "height": 324,
    "title": {"text": "F", "anchor": "start", "frame": "group", "dx": -31, "offset": 7.5, "baseline": "bottom", "fontSize": 13, "fontWeight": "bold"},
    "layer": [
     {"data": {"name": "boxF"}, "mark": {"type": "rule", "color": "black", "strokeWidth": 1.2},
      "encoding": {
       "x": {"field": "gene", "type": "nominal", "sort": ["NOP2","TET1"], "scale": {"paddingInner": 0, "paddingOuter": 0.1},
        "axis": {"title": null, "labelAngle": -55, "labelAlign": "right", "labelBaseline": "top", "labelFontSize": 15, "tickSize": 4, "tickWidth": 1.2, "domainWidth": 1.2, "labelPadding": 2}},
       "xOffset": {"field": "risk", "type": "nominal", "sort": ["low","high"], "scale": {"paddingInner": 0, "paddingOuter": 0.25}},
       "y": {"field": "lo", "type": "quantitative", "scale": {"domain": [-0.22, 5.86], "nice": false, "zero": false},
        "axis": {"title": "Gene expression", "values": [0,2,4], "tickCount": 20, "format": "d", "labelFontSize": 14, "titleFontSize": 15, "tickSize": 3, "tickWidth": 1.2, "domainWidth": 1.2, "labelPadding": 2, "titlePadding": 1}},
       "y2": {"field": "hi"}
      }},
     {"data": {"name": "boxF"}, "mark": {"type": "bar", "stroke": "black", "strokeWidth": 1.2},
      "encoding": {
       "x": {"field": "gene", "type": "nominal", "sort": ["NOP2","TET1"]},
       "xOffset": {"field": "risk", "type": "nominal", "sort": ["low","high"]},
       "y": {"field": "q1", "type": "quantitative"},
       "y2": {"field": "q3"},
       "color": {"field": "risk", "type": "nominal", "sort": ["low","high"], "scale": {"domain": ["low","high"], "range": ["#0066ff","#ff0000"]},
        "legend": {"orient": "none", "legendX": 308, "legendY": -48, "direction": "horizontal", "title": "Risk", "titleOrient": "left", "titleFontSize": 15.5, "titleFontWeight": "normal", "titleBaseline": "middle", "titlePadding": 9, "labelFontSize": 13.5, "labelOffset": 12, "columnPadding": 2, "symbolSize": 400, "symbolStrokeColor": "black", "symbolStrokeWidth": 1.2, "symbolOpacity": 1, "symbolType": "M-0.88,-0.58H0.88V0.58H-0.88Z M-0.88,0H0.88 M0,-0.58V-0.88 M0,0.58V0.88"}}
      }},
     {"data": {"name": "boxF"}, "mark": {"type": "tick", "color": "black", "thickness": 3, "size": 126, "opacity": 1},
      "encoding": {
       "x": {"field": "gene", "type": "nominal", "sort": ["NOP2","TET1"]},
       "xOffset": {"field": "risk", "type": "nominal", "sort": ["low","high"]},
       "y": {"field": "med", "type": "quantitative"}
      }},
     {"data": {"name": "outF"}, "mark": {"type": "circle", "color": "black", "size": 28, "opacity": 1},
      "encoding": {
       "x": {"field": "gene", "type": "nominal", "sort": ["NOP2","TET1"]},
       "xOffset": {"field": "risk", "type": "nominal", "sort": ["low","high"]},
       "y": {"field": "v", "type": "quantitative"}
      }},
     {"data": {"name": "sigF"}, "mark": {"type": "text", "fontSize": 14, "color": "black", "baseline": "middle"},
      "encoding": {
       "x": {"field": "gene", "type": "nominal", "sort": ["NOP2","TET1"]},
       "y": {"datum": 5.62},
       "text": {"field": "lab"}
      }}
    ]
   }
  ],
  "spacing": 0, "bounds": "flush"
 }
],
"spacing": 32
}
